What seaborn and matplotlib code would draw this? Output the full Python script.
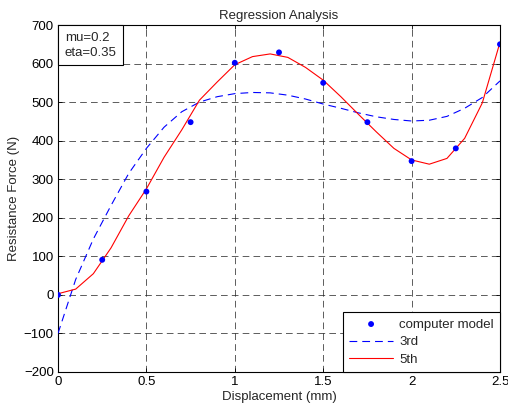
import matplotlib
matplotlib.use("Agg")
import matplotlib.pyplot as plt
import seaborn as sns
import pandas as pd

# Data
disp = [0.0, 0.25, 0.5, 0.75, 1.0, 1.25, 1.5, 1.75, 2.0, 2.25, 2.5]
force = [0, 91, 268, 448, 602, 629, 550, 448, 347, 380, 650]

fit_x = [0.0, 0.1, 0.2, 0.3, 0.4, 0.5, 0.6, 0.7, 0.8, 0.9, 1.0, 1.1, 1.2,
         1.3, 1.4, 1.5, 1.6, 1.7, 1.8, 1.9, 2.0, 2.1, 2.2, 2.3, 2.4, 2.5]
fit3 = [-100, 40, 145, 232, 315, 380, 435, 475, 500, 514, 522, 525, 524,
        518, 508, 495, 484, 472, 462, 455, 451, 453, 463, 484, 512, 555]
fit5 = [3, 15, 55, 122, 205, 275, 357, 428, 505, 552, 597, 618, 625,
        616, 590, 557, 514, 468, 423, 380, 350, 339, 354, 406, 498, 655]

xticks = [0, 0.5, 1, 1.5, 2, 2.5]
xtick_labels = ["0", "0.5", "1", "1.5", "2", "2.5"]
yticks = [-200, -100, 0, 100, 200, 300, 400, 500, 600, 700]

FS = 9.5

sns.set_style("ticks")
plt.rcParams["font.family"] = ["Liberation Sans", "DejaVu Sans"]
plt.rcParams["font.size"] = FS

fig = plt.figure(figsize=(5.08, 4.12), dpi=100)
ax = fig.add_axes([58 / 508, 1 - 372 / 412, 442 / 508, 347 / 412])

df_pts = pd.DataFrame({"x": disp, "y": force})
df_fit = pd.DataFrame({"x": fit_x, "f3": fit3, "f5": fit5})

sns.scatterplot(data=df_pts, x="x", y="y", ax=ax, color="#0000ff", s=18,
                edgecolor="none", label="computer model", zorder=4)
sns.lineplot(data=df_fit, x="x", y="f3", ax=ax, color="#0000ff", lw=0.8,
             label="3rd", zorder=3)
sns.lineplot(data=df_fit, x="x", y="f5", ax=ax, color="#ff0000", lw=0.8,
             label="5th", zorder=3)
ax.lines[0].set_dashes([7, 4.5])

ax.set_xlim(0, 2.5)
ax.set_ylim(-200, 700)
ax.set_xticks(xticks)
ax.set_xticklabels(xtick_labels)
ax.set_yticks(yticks)
ax.tick_params(direction="in", length=3, width=0.6, top=True, right=True,
               labelsize=FS, colors="black", pad=3)
for s in ax.spines.values():
    s.set_visible(True)
    s.set_linewidth(0.8)
    s.set_color("black")

ax.grid(True, color="#222222", linestyle=(0, (8, 5)), linewidth=0.6, alpha=0.85)
ax.set_axisbelow(True)

ax.set_title("Regression Analysis", fontsize=FS, pad=4)
ax.set_xlabel("Displacement (mm)", fontsize=FS, labelpad=2)
ax.set_ylabel("Resistance Force (N)", fontsize=FS, labelpad=3)

leg = ax.legend(loc="lower right", bbox_to_anchor=(1, 0), borderaxespad=0,
                fontsize=FS, fancybox=False, framealpha=1, edgecolor="black",
                handlelength=3.3, handletextpad=0.5, borderpad=0.45,
                labelspacing=0.42)
leg.get_frame().set_linewidth(0.8)

ax.annotate("mu=0.2\neta=0.35", xy=(0, 1), xycoords="axes fraction",
            xytext=(5.0, -5.0), textcoords="offset points", fontsize=FS,
            va="top", ha="left", linespacing=1.3,
            bbox=dict(boxstyle="square,pad=0.5", fc="white", ec="black", lw=0.8),
            zorder=5)

fig.savefig("out.png", dpi=100)
